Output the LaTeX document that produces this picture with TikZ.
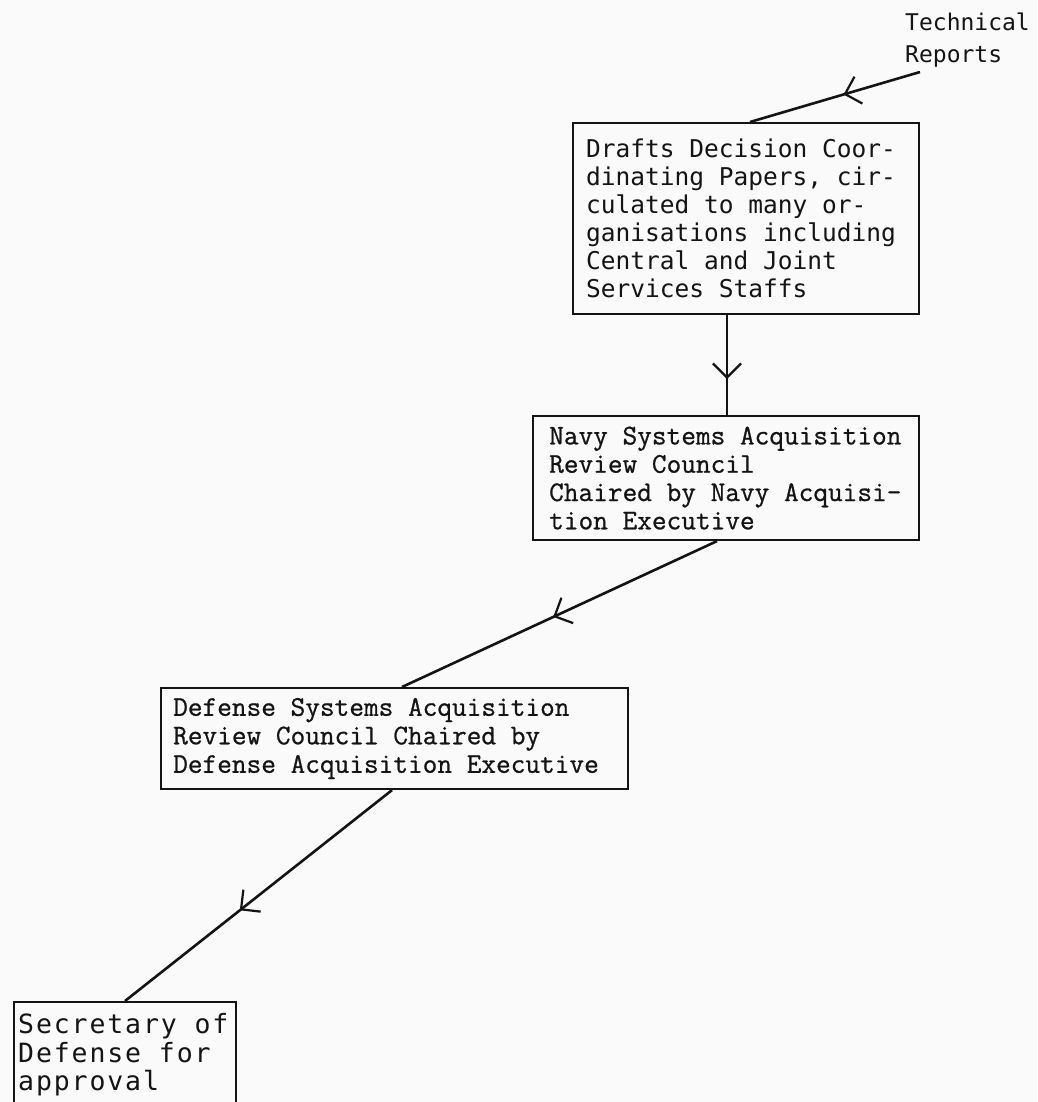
\documentclass[tikz,border=0pt]{standalone}
\usepackage{fontspec}
\usetikzlibrary{arrows.meta,decorations.markings}
\newfontfamily\sansmono{DejaVu Sans Mono}
\newfontfamily\widemono[LetterSpace=7.1]{DejaVu Sans Mono}
\newfontfamily\typewriter[FakeBold=0.8]{Latin Modern Mono}
\definecolor{paper}{RGB}{250,250,250}
\definecolor{ink}{RGB}{20,20,20}

\begin{document}
\begin{tikzpicture}[x=1pt,y=-1pt,
  box/.style={draw=ink,line width=2.1pt,anchor=north west,inner sep=0pt},
  txt/.style={anchor=west,inner sep=0pt,align=left,text=ink},
  flow/.style={draw=ink,line width=2.6pt},
  midtip/.style={postaction={decorate,decoration={markings,
      mark=at position #1 with {\arrow{Straight Barb[length=14pt,width=28pt,line width=2.2pt]}}}}}]

  % page
  \fill[paper] (0,0) rectangle (1037,1102);
  \useasboundingbox (0,0) rectangle (1037,1102);

  % incoming reports
  \node[anchor=north west,inner sep=0pt,align=left,text=ink,
        font=\sansmono\fontsize{23}{32}\selectfont] (src) at (905,12.5) {Technical\\Reports};
  \coordinate (tail) at (920,72);

  % boxes
  \node[box,minimum width=346pt,minimum height=191pt] (b1) at (572,122) {};
  \node[box,minimum width=386pt,minimum height=124pt] (b2) at (532,415) {};
  \node[box,minimum width=467pt,minimum height=101pt] (b3) at (160,687) {};
  \node[box,minimum width=222pt,minimum height=106pt] (b4) at (13,1001) {};

  % box texts
  \node[txt,font=\sansmono\fontsize{24.5}{28}\selectfont] (t1) at ([xshift=14pt]b1.west)
    {Drafts Decision Coor-\\dinating Papers, cir-\\culated to many or-\\ganisations including\\Central and Joint\\Services Staffs};
  \node[txt,font=\typewriter\fontsize{28.5}{28.3}\selectfont] (t2) at ([xshift=17pt]b2.west)
    {Navy Systems Acquisition\\Review Council\\Chaired by Navy Acquisi-\\tion Executive};
  \node[txt,font=\typewriter\fontsize{28.5}{28.5}\selectfont] (t3) at ([xshift=13pt]b3.west)
    {Defense Systems Acquisition\\Review Council Chaired by\\Defense Acquisition Executive};
  \node[txt,font=\widemono\fontsize{26.5}{28.5}\selectfont] (t4) at ([xshift=5pt]b4.west)
    {Secretary of\\Defense for\\approval};

  % connectors
  \draw[flow,midtip=0.45] (tail) -- ([xshift=178pt]b1.north west);
  \draw[flow,line width=1.9pt,midtip=0.64] ([xshift=155pt]b1.south west) -- ([xshift=195pt]b2.north west);
  \draw[flow,midtip=0.52] ([xshift=185pt]b2.south west) -- ([xshift=242pt]b3.north west);
  \draw[flow,midtip=0.57] ([xshift=232pt]b3.south west) -- ([xshift=112pt]b4.north west);
\end{tikzpicture}
\end{document}
